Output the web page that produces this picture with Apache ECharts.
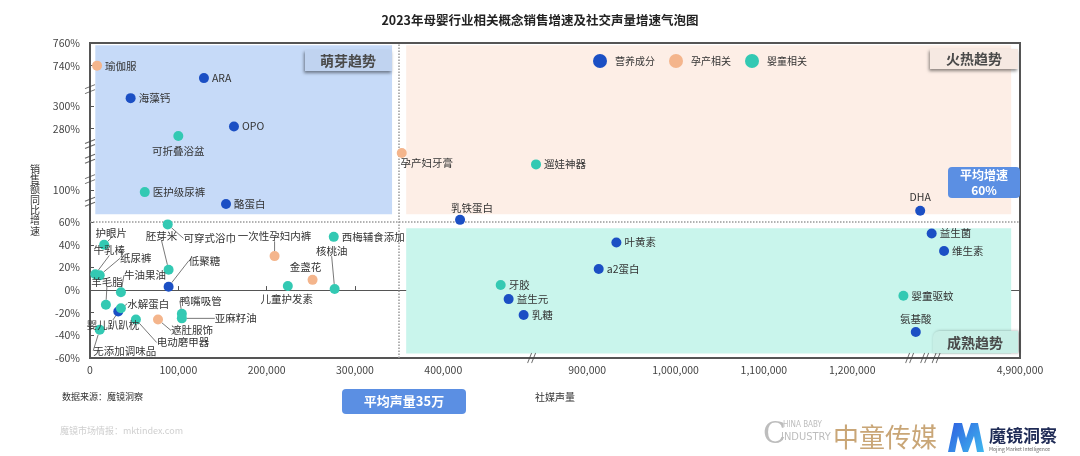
<!DOCTYPE html>
<html><head><meta charset="utf-8">
<script src="https://cdn.jsdelivr.net/npm/echarts@6/dist/echarts.min.js"></script>
<style>html,body{margin:0;padding:0;background:#fff}#c{width:1080px;height:456px}</style>
</head><body><div id="c"></div>
<script>
const FONT = '"Noto Sans CJK SC","Noto Sans",sans-serif';
const seriesNames = ['营养成分', '孕产相关', '婴童相关'];
const seriesColors = ['#1b4fc4', '#f4b58c', '#33c9b3'];

// 营养成分
const nutritionNames  = ['ARA', '海藻钙', 'OPO', '酪蛋白', '低聚糖', '水解蛋白', '乳铁蛋白', '叶黄素', 'a2蛋白', '益生元', '乳糖', 'DHA', '益生菌', '维生素', '氨基酸'];
const nutritionVolume = [129000, 46000, 163000, 154000, 89000, 32000, 419000, 933000, 913000, 474000, 491000, 1512000, 2508000, 4814000, 1507000];
const nutritionGrowth = [729, 307, 282, 76, 3, -19, 62, 42, 18.6, -8, -22, 70, 50, 34.5, -37];

// 孕产相关
const maternityNames  = ['瑜伽服', '孕产妇牙膏', '一次性孕妇内裤', '金盏花', '遮肚服饰'];
const maternityVolume = [8000, 353000, 209000, 252000, 77000];
const maternityGrowth = [740, 205, 30, 9, -26];

// 婴童相关
const babyNames  = ['可折叠浴盆', '医护级尿裤', '遛娃神器', '可穿式浴巾', '护眼片', '牛乳棒', '纸尿裤', '羊毛脂', '胚芽米', '牛油果油', '婴儿趴趴枕', '无添加调味品', '电动磨甲器', '鸭嘴吸管', '亚麻籽油', '儿童护发素', '西梅辅食添加', '核桃油', '牙胶', '婴童驱蚊'];
const babyVolume = [100000, 62000, 842000, 88000, 16000, 6000, 11000, 18000, 89000, 35000, 35000, 11000, 52000, 104000, 104000, 224000, 276000, 277000, 465000, 1258000];
const babyGrowth = [273.5, 98.5, 163, 58, 40, 14, 13, -13, 18, -2, -16, -35, -26, -21, -25, 3.6, 47, 1, 4.5, -5];

// axis ticks and breaks
const xTicks = [0, 100000, 200000, 300000, 400000, 900000, 1000000, 1100000, 1200000, 4900000];
const yTicks = [-60, -40, -20, 0, 20, 40, 60, 100, 280, 300, 740, 760];
const xBreaks = [[500000, 837000], [1265000, 1500000], [1517000, 2500000], [2513000, 4805000]];
const yBreaks = [[78, 90], [110, 150], [168, 200], [213, 266.5], [315, 719.3]];
const avgVolume = 350000;
const avgGrowth = 60;

// label placement (styling): offset of label centre from the point, with leader line
const labelMoves = {
  '一次性孕妇内裤': [0, -20], '核桃油': [-3, -38], '可穿式浴巾': [42, 14], '胚芽米': [-7, -34],
  '低聚糖': [36, -26], '护眼片': [7, -12], '牛乳棒': [14, -24], '纸尿裤': [36, -17],
  '羊毛脂': [1, -23], '牛油果油': [24, -17], '水解蛋白': [30, -8], '婴儿趴趴枕': [-8, 17],
  '无添加调味品': [25, 21], '电动磨甲器': [47, 23], '遮肚服饰': [34, 11], '鸭嘴吸管': [19, -13],
  '亚麻籽油': [54, 0]
};
// offset of label centre from the point, no leader line
const labelShifts = {
  '可折叠浴盆': [0, 15], '儿童护发素': [-1, 13], 'DHA': [0, -14], '氨基酸': [0, -13],
  '孕产妇牙膏': [25, 10], '乳铁蛋白': [12, -12], '金盏花': [-7, -13]
};

function makeItems(names, xs, ys) {
  return names.map((n, i) => {
    const it = { name: n, value: [xs[i], ys[i]] };
    if (labelMoves[n]) { it.label = { position: 'inside' }; it.labelLine = { show: true }; }
    else if (labelShifts[n]) { it.label = { position: 'inside' }; }
    return it;
  });
}

const chart = echarts.init(document.getElementById('c'), null, { renderer: 'canvas' });

const pointSeries = [
  [nutritionNames, nutritionVolume, nutritionGrowth],
  [maternityNames, maternityVolume, maternityGrowth],
  [babyNames, babyVolume, babyGrowth]
].map((d, i) => ({
  name: seriesNames[i],
  type: 'scatter',
  z: 5,
  symbolSize: 10,
  itemStyle: { color: seriesColors[i], opacity: 1 },
  data: makeItems(d[0], d[1], d[2]),
  label: { show: true, formatter: '{b}', position: 'right', distance: 3, fontSize: 10.5, color: '#333', fontFamily: FONT },
  labelLine: { show: false, lineStyle: { color: '#555', width: 0.8 } },
  labelLayout: function (p) {
    const m = labelMoves[p.text] || labelShifts[p.text];
    return m ? { dx: m[0], dy: m[1] } : {};
  },
  emphasis: { disabled: true }
}));

const slash = 'path://M0,10 L4,0 M4,10 L8,0';
const yslash = 'path://M0,4 L10,0 M0,9 L10,5';
const yName = '销售额同比增速';

const option = {
  animation: false,
  textStyle: { fontFamily: FONT },
  title: {
    text: '2023年母婴行业相关概念销售增速及社交声量增速气泡图',
    left: 'center', top: 9,
    textStyle: { fontSize: 12.5, fontWeight: 'bold', color: '#222', fontFamily: FONT }
  },
  legend: {
    data: seriesNames, icon: 'circle', itemWidth: 20, itemHeight: 14, itemGap: 14, padding: 0,
    left: 593, top: 54, textStyle: { fontSize: 10, color: '#333', fontFamily: FONT }
  },
  grid: { left: 90, right: 60, top: 43, bottom: 98, show: true, borderColor: '#555', borderWidth: 2, backgroundColor: 'transparent' },
  xAxis: {
    type: 'value', min: 0, max: 4900000,
    breaks: xBreaks.map(b => ({ start: b[0], end: b[1], gap: 0 })),
    breakArea: { show: false },
    name: '社媒声量', nameLocation: 'middle', nameGap: 34,
    nameTextStyle: { fontSize: 10, color: '#333' },
    axisLine: { lineStyle: { color: '#555', width: 1 } },
    axisTick: { inside: true, length: 4, customValues: xTicks, lineStyle: { color: '#555' } },
    axisLabel: { customValues: xTicks, fontSize: 10.5, color: '#444', margin: 7, formatter: v => Number(v).toLocaleString('en-US') },
    splitLine: { show: false }
  },
  yAxis: {
    type: 'value', min: -60, max: 760,
    breaks: yBreaks.map(b => ({ start: b[0], end: b[1], gap: 0 })),
    breakArea: { show: false },
    axisLine: { show: true, lineStyle: { color: '#555', width: 1 } },
    axisTick: { show: true, inside: true, length: 4, customValues: yTicks, lineStyle: { color: '#555' } },
    axisLabel: { customValues: yTicks, fontSize: 10.5, color: '#444', margin: 10, formatter: v => v + '%' },
    splitLine: { show: false }
  },
  series: [
    {
      type: 'scatter', name: 'bg', z: 1, silent: true, data: [],
      markArea: {
        silent: true,
        data: [
          [{ xAxis: 6000, yAxis: 67, itemStyle: { color: '#c6daf8' } }, { xAxis: 342000, yAxis: 758 }],
          [{ xAxis: 358000, yAxis: 67, itemStyle: { color: '#fdeee6' } }, { xAxis: 4890000, yAxis: 758 }],
          [{ xAxis: 358000, yAxis: -56, itemStyle: { color: '#c9f5ec' } }, { xAxis: 4890000, yAxis: 54.5 }]
        ]
      },
      markLine: {
        silent: true, symbol: 'none', label: { show: false },
        lineStyle: { type: 'dotted', color: '#999', width: 1.5 },
        data: [{ xAxis: avgVolume }, { yAxis: avgGrowth }]
      }
    },
    ...pointSeries,
    {
      type: 'scatter', name: 'xbreak', z: 6, silent: true, clip: false,
      symbol: slash, symbolSize: [8, 10],
      itemStyle: { color: 'rgba(0,0,0,0)', borderColor: '#444', borderWidth: 1 },
      data: xBreaks.map(b => [b[0], -60])
    },
    {
      type: 'scatter', name: 'ybreak', z: 6, silent: true, clip: false,
      symbol: yslash, symbolSize: [10, 9],
      itemStyle: { color: 'rgba(0,0,0,0)', borderColor: '#444', borderWidth: 1 },
      data: yBreaks.map(b => [0, b[0]])
    }
  ],
  graphic: [
    ...yName.split('').map((ch, i) => ({ type: 'text', x: 35, y: 169 + i * 10.3, style: { text: ch, fill: '#333', align: 'center', verticalAlign: 'middle', font: '10px ' + FONT } })),
    { type: 'rect', shape: { x: 305, y: 50, width: 87, height: 21 }, style: { fill: '#c0d3f0', shadowBlur: 3, shadowOffsetX: -1, shadowOffsetY: 2, shadowColor: 'rgba(0,0,0,0.45)' }, z: 10 },
    { type: 'text', x: 348, y: 60.5, style: { text: '萌芽趋势', fill: '#4a4a4a', align: 'center', verticalAlign: 'middle', font: 'bold 14px ' + FONT }, z: 11 },
    { type: 'rect', shape: { x: 930, y: 49, width: 88, height: 20 }, style: { fill: '#f6e9e2', shadowBlur: 3, shadowOffsetX: -1, shadowOffsetY: 2, shadowColor: 'rgba(0,0,0,0.45)' }, z: 10 },
    { type: 'text', x: 974, y: 58.5, style: { text: '火热趋势', fill: '#4a4a4a', align: 'center', verticalAlign: 'middle', font: 'bold 14px ' + FONT }, z: 11 },
    { type: 'rect', shape: { x: 933, y: 331, width: 85, height: 22, r: [6, 0, 0, 0] }, style: { fill: '#c8efe6', shadowBlur: 3, shadowOffsetX: 1, shadowOffsetY: 0, shadowColor: 'rgba(0,0,0,0.35)' }, z: 10 },
    { type: 'text', x: 975, y: 342.5, style: { text: '成熟趋势', fill: '#4a4a4a', align: 'center', verticalAlign: 'middle', font: 'bold 14px ' + FONT }, z: 11 },
    { type: 'rect', shape: { x: 948, y: 167, width: 72, height: 31, r: 4 }, style: { fill: '#5b8fe3' }, z: 10 },
    { type: 'text', x: 984, y: 182.5, style: { text: '平均增速\n60%', fill: '#fff', align: 'center', verticalAlign: 'middle', lineHeight: 15, font: 'bold 12px ' + FONT }, z: 11 },
    { type: 'rect', shape: { x: 342, y: 389, width: 124, height: 25, r: 4 }, style: { fill: '#5b8fe3' }, z: 10 },
    { type: 'text', x: 404, y: 401.5, style: { text: '平均声量35万', fill: '#fff', align: 'center', verticalAlign: 'middle', font: 'bold 13px ' + FONT }, z: 11 },
    { type: 'text', x: 62, y: 397, style: { text: '数据来源：魔镜洞察', fill: '#333', verticalAlign: 'middle', font: '9px ' + FONT } },
    { type: 'text', x: 60, y: 431, style: { text: '魔镜市场情报：mktindex.com', fill: '#cfcfcf', verticalAlign: 'middle', font: '9px ' + FONT } },
    { type: 'text', x: 763, y: 435, style: { text: 'C', fill: '#bdbdbd', verticalAlign: 'middle', font: '30px "DejaVu Serif", serif' } },
    { type: 'text', x: 783, y: 425, style: { text: 'HINA BABY', fill: '#bdbdbd', verticalAlign: 'middle', font: '8px "Liberation Sans Narrow","DejaVu Sans Condensed",sans-serif' } },
    { type: 'text', x: 781, y: 437, style: { text: 'INDUSTRY', fill: '#bdbdbd', verticalAlign: 'middle', font: '11px "Liberation Sans Narrow","DejaVu Sans Condensed",sans-serif' } },
    { type: 'text', x: 833, y: 437, style: { text: '中童传媒', fill: '#c9a677', verticalAlign: 'middle', font: '26px ' + FONT } },
    { type: 'text', x: 931, y: 427, style: { text: '®', fill: '#c9a677', verticalAlign: 'middle', font: '7px ' + FONT } },
    { type: 'polygon', shape: { points: [[948, 452], [954, 423], [962, 423], [966, 438], [971, 423], [978, 423], [984, 452], [977, 452], [974, 436], [968, 452], [963, 452], [958, 436], [955, 452]] },
      style: { fill: new echarts.graphic.LinearGradient(0, 0, 1, 1, [{ offset: 0, color: '#2f5fe0' }, { offset: 1, color: '#3fb8ef' }]) } },
    { type: 'text', x: 989, y: 436, style: { text: '魔镜洞察', fill: '#1e2a55', verticalAlign: 'middle', font: 'bold 17px ' + FONT } },
    { type: 'text', x: 989, y: 449, style: { text: 'Mojing Market Intelligence', fill: '#666', verticalAlign: 'middle', font: '5px ' + FONT } }
  ]
};
chart.setOption(option);
</script>
</body></html>
